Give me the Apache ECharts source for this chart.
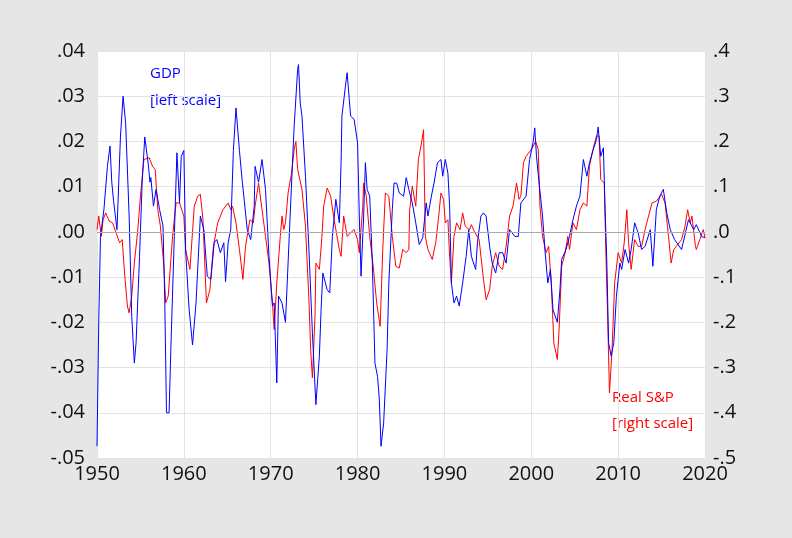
<!doctype html>
<html>
<head>
<meta charset="utf-8">
<script src="https://cdn.jsdelivr.net/npm/echarts@6/dist/echarts.min.js"></script>
<style>
  html, body { margin: 0; padding: 0; background: #e6e6e6; }
  #chart { width: 792px; height: 538px; }
</style>
</head>
<body>
<div id="chart"></div>
<script>
// GDP (left scale)
var gdpYears = [1950.0,1950.2,1950.4,1950.8,1951.2,1951.5,1951.7,1951.9,1952.3,1952.7,1953.0,1953.3,1953.7,1954.0,1954.3,1954.5,1954.9,1955.2,1955.5,1955.9,1956.1,1956.2,1956.5,1956.8,1957.2,1957.6,1957.8,1958.0,1958.3,1958.5,1958.9,1959.2,1959.5,1959.7,1960.0,1960.2,1960.6,1961.0,1961.4,1961.9,1962.3,1962.7,1963.1,1963.5,1963.8,1964.2,1964.6,1964.8,1965.1,1965.4,1965.7,1966.0,1966.4,1966.7,1967.3,1967.7,1968.1,1968.2,1968.6,1969.0,1969.4,1969.8,1970.2,1970.4,1970.7,1970.9,1971.3,1971.7,1971.9,1972.3,1972.7,1973.1,1973.2,1973.4,1973.6,1974.0,1974.4,1974.8,1975.2,1975.6,1975.8,1976.0,1976.5,1976.8,1977.1,1977.5,1977.9,1978.1,1978.2,1978.6,1978.8,1979.2,1979.6,1980.0,1980.2,1980.4,1980.7,1980.9,1981.1,1981.4,1981.7,1982.0,1982.3,1982.5,1982.7,1983.0,1983.4,1983.6,1984.0,1984.2,1984.5,1984.8,1985.3,1985.6,1985.9,1986.3,1986.7,1987.1,1987.5,1987.9,1988.1,1988.5,1988.8,1989.2,1989.6,1989.8,1990.1,1990.4,1990.6,1990.8,1991.1,1991.4,1991.7,1992.1,1992.5,1992.8,1993.1,1993.6,1993.8,1994.2,1994.5,1994.8,1995.2,1995.5,1995.9,1996.3,1996.7,1997.1,1997.5,1998.1,1998.5,1998.8,1999.4,1999.8,2000.2,2000.4,2000.6,2000.9,2001.3,2001.6,2001.9,2002.2,2002.5,2003.0,2003.3,2003.5,2004.0,2004.4,2004.8,2005.2,2005.6,2006.0,2006.4,2006.7,2007.1,2007.5,2007.7,2008.0,2008.3,2008.5,2008.7,2008.9,2009.2,2009.5,2009.8,2010.2,2010.4,2010.8,2011.2,2011.5,2011.9,2012.3,2012.7,2013.1,2013.7,2014.0,2014.4,2014.8,2015.2,2015.6,2016.0,2016.5,2017.3,2018.1,2018.7,2019.0,2019.6,2020.0];
var gdpValues = [-0.0474,-0.020,-0.001,0.005,0.0145,0.019,0.011,0.007,0.0005,0.021,0.030,0.024,0.0035,-0.0187,-0.029,-0.0245,-0.0054,0.011,0.021,0.015,0.011,0.012,0.0057,0.0094,0.005,0.0013,-0.015,-0.040,-0.040,-0.026,-0.001,0.0175,0.0064,0.0167,0.018,-0.004,-0.017,-0.025,-0.0157,0.0035,0.0005,-0.0098,-0.0105,-0.0024,-0.0017,-0.0046,-0.0024,-0.011,-0.0024,0.0005,0.018,0.0274,0.018,0.0116,0.0005,-0.0017,0.0057,0.0145,0.011,0.016,0.0094,-0.0054,-0.0164,-0.0157,-0.0334,-0.0142,-0.0157,-0.020,-0.0113,0.0064,0.0234,0.0359,0.037,0.0285,0.0256,0.0123,-0.0039,-0.0223,-0.0382,-0.0275,-0.0172,-0.0091,-0.0128,-0.0135,-0.001,0.0072,0.002,0.0153,0.0256,0.0322,0.0352,0.0256,0.0249,0.0197,0.0035,-0.0098,0.0035,0.0153,0.0094,0.0079,-0.0069,-0.029,-0.032,-0.037,-0.0474,-0.0423,-0.026,-0.0113,0.005,0.0108,0.0108,0.0086,0.0079,0.012,0.0094,0.0064,0.002,-0.0028,-0.0013,0.0064,0.0035,0.0079,0.0108,0.0153,0.016,0.0123,0.016,0.013,0.0057,-0.0113,-0.0157,-0.0142,-0.0164,-0.0113,-0.0054,0.0005,-0.0054,-0.0083,-0.0024,0.0035,0.0042,0.0035,-0.0032,-0.0069,-0.0091,-0.0046,-0.0046,-0.0069,0.0005,-0.001,-0.001,0.0064,0.0079,0.016,0.0197,0.023,0.0167,0.0108,0.0035,-0.0046,-0.0113,-0.0083,-0.0172,-0.020,-0.0128,-0.0061,-0.0039,-0.001,0.0027,0.0057,0.0079,0.016,0.0123,0.0153,0.018,0.0204,0.0232,0.0167,0.0186,0.005,-0.0069,-0.0245,-0.0275,-0.0245,-0.0142,-0.0069,-0.0083,-0.0039,-0.0069,-0.0039,0.002,-0.0002,-0.0039,-0.0032,0.0005,-0.0076,0.005,0.0079,0.0094,0.0042,0.0005,-0.0017,-0.0039,0.0027,0.0005,0.0016,-0.001,-0.0013];

// Real S&P (right scale)
var spYears = [1950.0,1950.2,1950.5,1950.7,1951.0,1951.4,1951.8,1952.2,1952.6,1952.9,1953.2,1953.5,1953.7,1954.0,1954.3,1954.7,1955.0,1955.4,1956.0,1956.4,1956.7,1957.0,1957.3,1957.7,1957.9,1958.2,1958.7,1959.1,1959.5,1960.0,1960.2,1960.7,1961.2,1961.6,1961.9,1962.2,1962.6,1963.0,1963.4,1963.9,1964.5,1965.1,1965.4,1965.6,1966.0,1966.4,1966.8,1967.1,1967.6,1968.0,1968.2,1968.6,1968.9,1969.4,1969.8,1970.2,1970.4,1970.7,1971.1,1971.3,1971.5,1971.7,1972.0,1972.4,1972.7,1972.9,1973.1,1973.6,1974.0,1974.4,1974.6,1974.8,1975.1,1975.2,1975.6,1975.9,1976.1,1976.5,1976.9,1977.3,1977.9,1978.1,1978.4,1978.8,1979.2,1979.6,1980.0,1980.2,1980.6,1980.7,1981.0,1981.4,1981.8,1982.2,1982.6,1982.9,1983.2,1983.6,1984.0,1984.4,1984.8,1985.2,1985.6,1985.9,1986.0,1986.3,1986.7,1987.0,1987.3,1987.6,1987.8,1988.1,1988.6,1989.0,1989.3,1989.6,1989.9,1990.1,1990.4,1990.6,1990.8,1991.1,1991.4,1991.8,1992.1,1992.4,1992.9,1993.1,1993.5,1994.0,1994.2,1994.5,1994.8,1995.2,1995.5,1995.9,1996.3,1996.7,1997.1,1997.5,1997.9,1998.3,1998.6,1998.8,1999.1,1999.4,2000.0,2000.5,2000.8,2001.0,2001.3,2001.7,2002.0,2002.3,2002.6,2003.0,2003.2,2003.5,2003.9,2004.2,2004.4,2004.8,2005.2,2005.6,2006.0,2006.4,2006.7,2007.1,2007.5,2007.8,2008.0,2008.4,2008.6,2008.8,2009.0,2009.3,2009.6,2010.0,2010.4,2010.7,2011.0,2011.2,2011.5,2011.9,2012.3,2012.7,2013.1,2013.5,2013.9,2014.4,2015.0,2015.4,2015.8,2016.1,2016.4,2016.7,2017.3,2017.7,2018.0,2018.3,2018.5,2018.9,2019.0,2019.4,2019.8,2020.0];
var spValues = [0.005,0.035,-0.01,0.027,0.042,0.024,0.02,-0.002,-0.024,-0.017,-0.098,-0.164,-0.179,-0.142,-0.069,0.005,0.079,0.16,0.164,0.145,0.138,0.049,0.0125,-0.076,-0.157,-0.142,-0.01,0.064,0.064,0.035,-0.039,-0.083,0.057,0.079,0.083,0.027,-0.157,-0.128,-0.032,0.02,0.049,0.064,0.049,0.057,0.02,-0.039,-0.105,-0.032,0.027,0.02,0.057,0.108,0.064,-0.01,-0.069,-0.157,-0.216,-0.113,-0.01,0.035,0.005,0.02,0.086,0.13,0.182,0.2,0.138,0.094,0.0125,-0.15,-0.26,-0.323,-0.187,-0.069,-0.083,-0.01,0.057,0.097,0.079,0.027,-0.039,-0.054,0.035,-0.01,-0.002,0.005,-0.017,-0.046,0.057,0.108,0.079,-0.01,-0.076,-0.157,-0.209,-0.039,0.086,0.079,-0.01,-0.076,-0.08,-0.039,-0.046,-0.039,0.049,0.101,0.057,0.16,0.19,0.226,-0.01,-0.039,-0.061,-0.024,0.027,0.086,0.072,0.02,0.027,-0.054,-0.113,-0.01,0.02,0.005,0.042,0.0125,0.005,0.016,-0.002,-0.017,-0.054,-0.105,-0.15,-0.128,-0.076,-0.046,-0.076,-0.083,-0.032,0.035,0.057,0.108,0.072,0.079,0.153,0.167,0.182,0.2,0.182,0.057,-0.01,-0.046,-0.032,-0.113,-0.246,-0.282,-0.216,-0.076,-0.046,-0.01,-0.039,0.02,0.005,0.049,0.064,0.057,0.145,0.182,0.212,0.212,0.116,0.108,-0.054,-0.194,-0.356,-0.26,-0.113,-0.046,-0.069,-0.024,0.049,-0.024,-0.083,-0.017,-0.032,-0.032,0.005,0.035,0.064,0.068,0.083,0.064,-0.01,-0.069,-0.039,-0.032,-0.017,0.0125,0.049,0.02,0.035,-0.032,-0.039,-0.017,0.005,-0.013];

function pairs(xs, ys) { return xs.map(function (x, i) { return [x, ys[i]]; }); }
function dotFmt(d) {
  return function (v) {
    var s = v.toFixed(d);
    return s.replace(/^(-?)0\./, '$1.');
  };
}

var chart = echarts.init(document.getElementById('chart'));
var labelStyle = { color: '#111', fontSize: 20, fontFamily: 'Open Sans' };

chart.setOption({
  animation: false,
  backgroundColor: '#e6e6e6',
  grid: { left: 97, right: 87, top: 51, bottom: 80, show: true, backgroundColor: '#fff', borderWidth: 0 },
  xAxis: {
    type: 'value', min: 1950, max: 2020, interval: 10,
    axisLine: { show: false }, axisTick: { show: false },
    splitLine: { lineStyle: { color: '#e3e3e3' } },
    axisLabel: Object.assign({ margin: 6, formatter: function (v) { return String(v); } }, labelStyle)
  },
  yAxis: [{
    type: 'value', min: -0.05, max: 0.04, interval: 0.01,
    axisLine: { show: false }, axisTick: { show: false },
    splitLine: { lineStyle: { color: '#e3e3e3' } },
    axisLabel: Object.assign({ formatter: dotFmt(2), margin: 12 }, labelStyle)
  }, {
    type: 'value', min: -0.5, max: 0.4, interval: 0.1,
    axisLine: { show: false }, axisTick: { show: false },
    splitLine: { show: false },
    axisLabel: Object.assign({ formatter: dotFmt(1), margin: 8 }, labelStyle)
  }],
  series: [{
    name: 'Real S&P', type: 'line', yAxisIndex: 1, showSymbol: false,
    data: pairs(spYears, spValues),
    lineStyle: { color: '#ff0000', width: 1 },
    markLine: { silent: true, symbol: 'none', label: { show: false },
      lineStyle: { color: '#aaaaaa', type: 'solid', width: 1 }, data: [{ yAxis: 0 }] }
  }, {
    name: 'GDP', type: 'line', yAxisIndex: 0, showSymbol: false,
    data: pairs(gdpYears, gdpValues),
    lineStyle: { color: '#0000ff', width: 1 }
  }],
  graphic: [
    { type: 'text', left: 150, top: 66, style: { text: 'GDP', fill: '#0000ff', font: '15px "Open Sans"' } },
    { type: 'text', left: 150, top: 93, style: { text: '[left scale]', fill: '#0000ff', font: '15px "Open Sans"' } },
    { type: 'text', left: 612, top: 390, style: { text: 'Real S&P', fill: '#ff0000', font: '15px "Open Sans"' } },
    { type: 'text', left: 612, top: 416, style: { text: '[right scale]', fill: '#ff0000', font: '15px "Open Sans"' } }
  ]
});
</script>
</body>
</html>
